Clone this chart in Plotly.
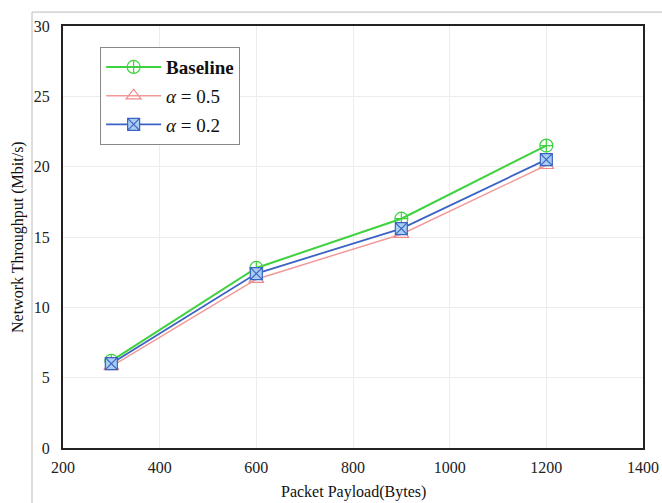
import plotly.graph_objects as go

payload = [300, 600, 900, 1200]
baseline = [6.2, 12.8, 16.3, 21.5]
alpha05 = [5.8, 12.0, 15.2, 20.1]
alpha02 = [6.0, 12.4, 15.6, 20.5]

x_ticks = [200, 400, 600, 800, 1000, 1200, 1400]
y_ticks = [0, 5, 10, 15, 20, 25, 30]

font_family = "Liberation Serif, Times New Roman, serif"

fig = go.Figure()
fig.add_trace(go.Scatter(
    x=payload, y=baseline, mode="lines+markers", name="<b>Baseline</b>", legendgroup="a",
    line=dict(color="#3fd23f", width=2),
    marker=dict(symbol="circle-cross-open", size=13, color="#3fd23f", line=dict(width=1.2))))
fig.add_trace(go.Scatter(
    x=payload, y=alpha05, mode="lines+markers", name="<i>α</i> = 0.5", legendgroup="b",
    line=dict(color="#f29a9a", width=1.5),
    marker=dict(symbol="triangle-up-open", size=13, color="#f08a8a", line=dict(width=1.2))))
fig.add_trace(go.Scatter(
    x=payload, y=alpha02, mode="lines+markers", name="<i>α</i> = 0.2", legendgroup="c",
    line=dict(color="#3b63c4", width=1.8),
    marker=dict(symbol="square-x", size=12, color="#a9cdf2", line=dict(width=1.2, color="#3b63c4"))))

axis_common = dict(
    showline=True, linecolor="#222222", linewidth=2, mirror=True,
    showgrid=True, gridcolor="#ececec", gridwidth=1,
    zeroline=False, ticks="", automargin=False,
    tickfont=dict(family=font_family, size=16, color="#222222"),
)

fig.update_layout(
    width=662, height=503,
    margin=dict(l=63, r=19, t=26, b=55),
    paper_bgcolor="white", plot_bgcolor="white",
    font=dict(family=font_family, size=16, color="#111111"),
    xaxis=dict(range=[200, 1400], tickvals=x_ticks, ticklabelstandoff=4, **axis_common),
    yaxis=dict(range=[0, 30], tickvals=y_ticks, ticklabelstandoff=8, **axis_common),
    legend=dict(x=0.064, y=0.95, xanchor="left", yanchor="top",
                bgcolor="white", bordercolor="#888888", borderwidth=1,
                font=dict(family=font_family, size=19, color="#111111"),
                traceorder="grouped", tracegroupgap=1, itemwidth=55),
    showlegend=True,
    annotations=[
        dict(text="Packet Payload(Bytes)", xref="paper", yref="paper",
             x=0.5, y=-0.104, xanchor="center", yanchor="middle", showarrow=False,
             font=dict(family=font_family, size=16, color="#111111")),
        dict(text="Network Throughput (Mbit/s)", xref="paper", yref="paper",
             x=-0.0776, y=0.5, xanchor="center", yanchor="middle", showarrow=False,
             textangle=-90, font=dict(family=font_family, size=16, color="#111111")),
    ],
)

# faint outer image border
fig.add_shape(type="rect", xref="paper", yref="paper",
              x0=-0.0534, x1=1.2, y0=-0.3, y1=1.033,
              line=dict(color="#bbbbbb", width=1), layer="below")

fig.write_html("out.html", config={"displayModeBar": False},
               post_script="document.body.style.margin='0';document.body.style.overflow='hidden';")
